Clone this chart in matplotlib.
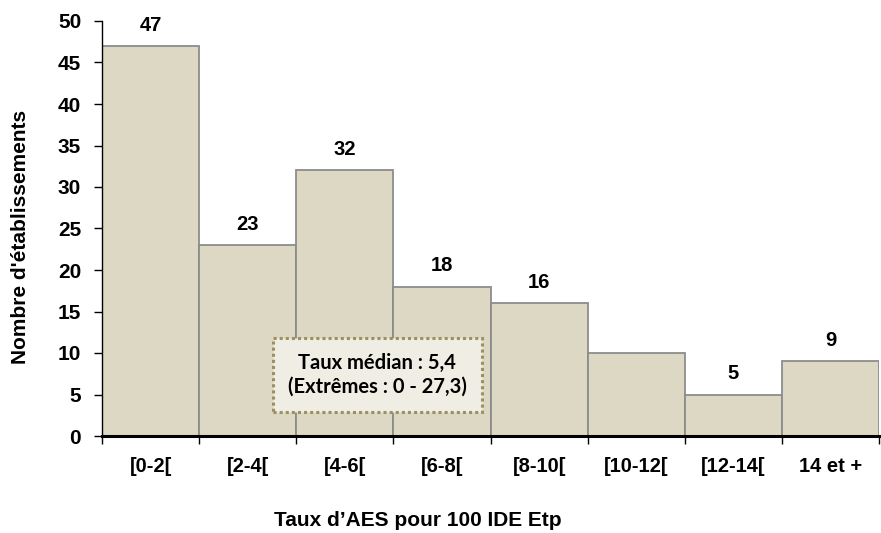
import matplotlib
matplotlib.use("Agg")
import matplotlib.pyplot as plt

categories = ["[0-2[", "[2-4[", "[4-6[", "[6-8[", "[8-10[", "[10-12[", "[12-14[", "14 et +"]
counts = [47, 23, 32, 18, 16, 10, 5, 9]
shown_labels = [True, True, True, True, True, False, True, True]
y_ticks = list(range(0, 51, 5))

plt.rcParams["font.family"] = ["Liberation Sans", "DejaVu Sans"]

fig = plt.figure(figsize=(8.81, 5.33), dpi=100)
ax = fig.add_axes([102 / 881, 1 - 436 / 533, 777 / 881, 415 / 533])

x = list(range(len(categories)))
ax.bar(x, counts, width=1.0, color="#ddd8c3", edgecolor="#8c8c8c", linewidth=1.3)

for xi, val, show in zip(x, counts, shown_labels):
    if show:
        ax.annotate(str(val), (xi, val), xytext=(0, 8), textcoords="offset points",
                    ha="center", va="bottom", fontsize=14.5, fontweight="bold")

ax.set_xlim(-0.5, len(categories) - 0.5)
ax.set_ylim(0, 50)
ax.set_yticks(y_ticks)
ax.set_yticklabels([str(t) for t in y_ticks], fontsize=15, fontweight="bold")
ax.tick_params(axis="y", direction="out", length=6, width=1, pad=9)

ax.set_xticks(x)
ax.set_xticklabels(categories, fontsize=14.5, fontweight="bold")
ax.tick_params(axis="x", which="major", length=0, pad=15)
ax.set_xticks([i - 0.5 for i in range(len(categories) + 1)], minor=True)
ax.tick_params(axis="x", which="minor", direction="out", length=6, width=1)

for side in ("top", "right"):
    ax.spines[side].set_visible(False)
ax.spines["left"].set_linewidth(1.0)
ax.spines["bottom"].set_linewidth(2.2)

fig.text(21 / 881, 1 - 237 / 533, "Nombre d'établissements", rotation=90,
         ha="center", va="center", fontsize=15, fontweight="bold")
fig.text(418 / 881, 1 - 521 / 533, "Taux d\u2019AES pour 100 IDE Etp",
         ha="center", va="center", fontsize=15, fontweight="bold")

ax.text(0.354, 0.147, "Taux médian : 5,4\n(Extrêmes : 0 - 27,3)",
        transform=ax.transAxes, ha="center", va="center",
        fontsize=14.5, fontweight="bold", family=["Lato", "DejaVu Sans"],
        linespacing=1.2,
        bbox=dict(boxstyle="square,pad=0.75", facecolor="#efede4",
                  edgecolor="#9b9060", linestyle=(0, (1, 1)), linewidth=2.2))

fig.savefig("out.png", dpi=100)
